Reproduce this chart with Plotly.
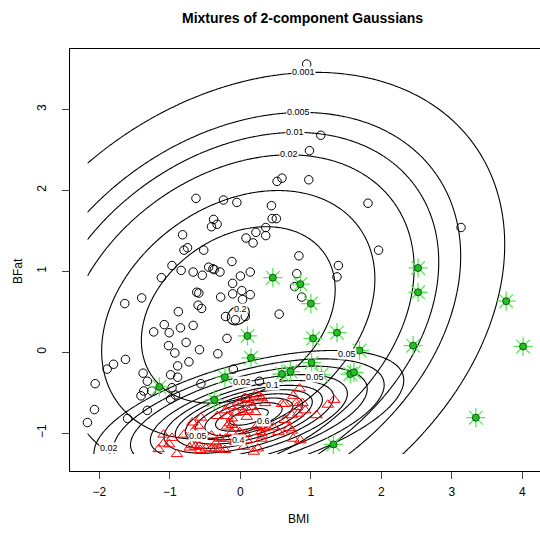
import numpy as np
import plotly.graph_objects as go

# ---- data: group 1 (black circles) ----
circ_x = [0.52, 0.59, 0.94, 1.14, 0.98, 0.97,
          -0.63, -0.24, -0.05, 0.44, 0.45, 0.51, -0.38, -0.33, -0.41, 0.36, 0.22, 0.36, 0.08, 0.18,
          -0.82, -0.75, -0.80, -0.52, 0.83, -0.12, -0.97, -0.84, -0.45, -0.39, -0.37, -0.29, -0.67,
          -0.54, 0.14, 0.00, 0.80, -1.12, -0.11, 0.77, -0.62, -0.59, 0.02, -0.11, 0.14, 0.03, -0.28,
          -1.40, -1.64, -0.60, -0.55, -0.88, 0.55, -0.21, -0.07, 0.07, -1.08, -0.85, -0.67, -1.01,
          -1.23, -0.19, -0.77, -1.02, -0.58,
          1.81, 3.13, 1.96, 1.39, 1.37, 0.87,
          -0.93, -0.32, -1.63, -0.73, -1.89, -1.80, -0.89, -0.10, -1.38, -0.99, -0.89, -1.32, -2.06,
          -0.56, 0.27, -1.26, -1.37, -1.41, -0.97, -0.92, -0.99, 0.07, -2.07, -1.32, -1.60, -2.17]
circ_y = [2.11, 2.15, 3.56, 2.68, 2.49, 2.13,
          1.90, 1.88, 1.85, 1.81, 1.65, 1.65, 1.64, 1.58, 1.55, 1.54, 1.48, 1.44, 1.41, 1.35,
          1.45, 1.29, 1.26, 1.26, 1.19, 1.12, 1.07, 1.01, 1.05, 1.03, 1.02, 0.99, 0.99,
          0.95, 0.99, 0.94, 0.97, 0.92, 0.85, 0.81, 0.74, 0.73, 0.76, 0.72, 0.71, 0.65, 0.68,
          0.67, 0.60, 0.58, 0.54, 0.50, 0.47, 0.44, 0.40, 0.44, 0.34, 0.30, 0.33, 0.24,
          0.25, 0.17, 0.12, 0.08, 0.03,
          1.84, 1.54, 1.26, 1.07, 0.93, 0.68,
          -0.01, -0.02, -0.09, -0.12, -0.21, -0.15, -0.17, -0.21, -0.26, -0.28, -0.31, -0.36, -0.39,
          -0.39, -0.36, -0.48, -0.48, -0.54, -0.44, -0.53, -0.58, -0.57, -0.71, -0.72, -0.82, -0.87]

# ---- data: group 2 (red triangles) ----
tri_x = [-1.16, -1.09, -1.09, -1.01, -0.97, -0.90, -0.80, -0.72, -0.69, -0.68, -0.66, -0.60, -0.56,
         -0.64, -0.58, -0.57, -0.49, -0.41, -0.36, -0.30, -0.22, -0.41, -0.35, -0.29, -0.21, -0.33,
         -0.21, -0.19, -0.19, -0.15, -0.12, -0.12, -0.12, -0.08, -0.14, -0.03, -0.06, -0.03, 0.04,
         0.07, 0.14, 0.11, 0.17, 0.21, 0.09, 0.12, 0.22, 0.27, 0.30, 0.35, -0.01, 0.07, -0.07, 0.09,
         0.05, 0.19, 0.25, 0.30, 0.31, 0.29, 0.23, 0.33, 0.36, 0.28, 0.38, 0.47, 0.54, 0.63, 0.69,
         0.73, 0.75, 0.85, 0.73, 0.82, 0.80, 0.92, 1.08, 0.59, 0.63, 0.79, 0.88, 0.75, 0.84, 1.24, 1.33]
tri_y = [-1.20, -1.02, -1.13, -1.14, -1.06, -1.26, -1.02, -1.18, -1.15, -0.87, -0.97, -0.91, -0.81,
         -1.17, -1.16, -1.21, -1.19, -1.19, -1.20, -1.19, -1.21, -1.03, -1.13, -1.07, -1.07, -0.79,
         -0.72, -0.79, -0.92, -0.88, -0.99, -0.90, -0.82, -0.95, -0.67, -0.68, -0.75, -0.63, -0.74,
         -0.57, -0.63, -0.72, -0.68, -0.74, -0.80, -0.59, -0.52, -0.55, -0.57, -0.63, -0.99, -1.01, -1.11, -1.09,
         -1.17, -1.23, -1.19, -1.07, -1.03, -0.99, -0.92, -0.94, -0.92, -0.91, -0.88, -0.93, -0.99, -0.84, -0.94,
         -0.97, -1.07, -1.09, -0.78, -0.76, -0.68, -0.72, -0.78, -0.64, -0.64, -0.63, -0.63, -0.54, -0.45, -0.65, -0.59]

# ---- data: unassigned / outlying points (green) ----
grn_x = [0.46, 0.10, 0.85, 1.00, 2.52, 2.52, 3.77, 1.37, 1.03, 2.45, 4.01, 1.69, -1.15, -0.22,
         0.15, -0.37, 0.59, 0.71, 1.01, 1.15, 1.56, 1.61, 3.34, 1.32]
grn_y = [0.92, 0.20, 0.84, 0.60, 1.04, 0.74, 0.63, 0.24, 0.17, 0.08, 0.07, 0.02, -0.43, -0.31,
         -0.07, -0.59, -0.27, -0.24, -0.13, -0.28, -0.27, -0.25, -0.81, -1.14]

# ---- fitted component parameters (mean x, mean y, sd x, sd y, rho, weight) ----
comp1 = dict(mx=-0.03, my=0.46, sx=1.16, sy=0.92, r=0.29, w=1.295)
comp2 = dict(mx=0.12, my=-0.80, sx=0.79, sy=0.295, r=0.55, w=1.17)
levels1 = [0.001, 0.005, 0.01, 0.02, 0.05, 0.1, 0.2]
levels2 = [0.02, 0.05, 0.1, 0.2, 0.3, 0.4, 0.5, 0.6, 0.7, 0.8, 0.9]

# contour labels (text, x, y)
lab_text = ["0.001", "0.005", "0.01", "0.02", "0.2", "0.02", "0.05", "0.1", "0.05",
            "0.02", "0.05", "0.4", "0.6"]
lab_x = [0.90, 0.82, 0.77, 0.69, 0.00, -1.86, -0.60, 0.46, 1.51, 0.02, 1.06, -0.02, 0.33]
lab_y = [3.46, 2.97, 2.72, 2.45, 0.53, -1.19, -1.04, -0.41, -0.02, -0.37, -0.31, -1.09, -0.85]


def bvn(X, Y, mx, my, sx, sy, r, w):
    zx = (X - mx) / sx
    zy = (Y - my) / sy
    q = (zx ** 2 - 2 * r * zx * zy + zy ** 2) / (1 - r ** 2)
    return w * np.exp(-q / 2) / (2 * np.pi * sx * sy * np.sqrt(1 - r ** 2))


allx = circ_x + tri_x + grn_x
ally = circ_y + tri_y + grn_y
gx = np.linspace(min(allx), max(allx), 260)
gy = np.linspace(min(ally), max(ally), 260)
GX, GY = np.meshgrid(gx, gy)
Z1 = bvn(GX, GY, **comp1)
Z2 = bvn(GX, GY, **comp2)

fig = go.Figure()
for Z, levels in ((Z1, levels1), (Z2, levels2)):
    for lv in levels:
        fig.add_trace(go.Contour(
            x=gx, y=gy, z=Z,
            contours=dict(start=lv, end=lv, size=1, coloring="lines", showlabels=False),
            colorscale=[[0, "black"], [1, "black"]],
            line=dict(width=1.1), showscale=False, hoverinfo="skip"))

fig.add_trace(go.Scatter(x=circ_x, y=circ_y, mode="markers",
                         marker=dict(symbol="circle-open", size=8.5, color="black", line=dict(width=1)),
                         hoverinfo="skip"))
fig.add_trace(go.Scatter(x=tri_x, y=tri_y, mode="markers",
                         marker=dict(symbol="triangle-up-open", size=10, color="red", line=dict(width=1)),
                         hoverinfo="skip"))
fig.add_trace(go.Scatter(x=grn_x, y=grn_y, mode="markers",
                         marker=dict(symbol="asterisk-open", size=16, color="#55ee55", line=dict(width=1.3)),
                         hoverinfo="skip"))
fig.add_trace(go.Scatter(x=grn_x, y=grn_y, mode="markers",
                         marker=dict(symbol="circle", size=7, color="#22c022",
                                     line=dict(width=1, color="#115511")),
                         hoverinfo="skip"))

for t, x, y in zip(lab_text, lab_x, lab_y):
    fig.add_annotation(x=x, y=y, text=t, showarrow=False,
                       font=dict(family="Liberation Sans, Arial", size=9, color="black"),
                       bgcolor="white", borderpad=0)

font = dict(family="Liberation Sans, Arial, sans-serif", size=12, color="black")
fig.update_layout(
    width=540, height=534, showlegend=False,
    paper_bgcolor="white", plot_bgcolor="white",
    margin=dict(l=70, r=0, t=49, b=63),
    font=font,
    xaxis=dict(range=[-2.417, 4.25], tickvals=[-2, -1, 0, 1, 2, 3, 4], showgrid=False, zeroline=False,
               showline=True, linecolor="black", linewidth=1, mirror=True,
               ticks="outside", ticklen=7, tickcolor="#444", tickfont=font, ticklabelstandoff=3),
    yaxis=dict(range=[-1.469, 3.746], tickvals=[-1, 0, 1, 2, 3], showgrid=False, zeroline=False,
               showline=True, linecolor="black", linewidth=1, mirror=False,
               ticks="outside", ticklen=7, tickcolor="#444", tickangle=-90, tickfont=font,
               ticklabelstandoff=11),
)
fig.add_annotation(text="<b>Mixtures of 2-component Gaussians</b>", xref="paper", yref="paper",
                   x=(302 - 70) / 470, y=(471 - 18) / 422, xanchor="center", yanchor="middle",
                   showarrow=False, font=dict(family="Liberation Sans, Arial", size=14, color="black"))
fig.add_annotation(text="BMI", xref="paper", yref="paper", x=(298 - 70) / 470,
                   y=(471 - 519) / 422, xanchor="center", yanchor="middle", showarrow=False, font=font)
fig.add_annotation(text="BFat", xref="paper", yref="paper", x=(18 - 70) / 470,
                   y=(471 - 271) / 422, xanchor="center", yanchor="middle",
                   showarrow=False, textangle=-90, font=font)

fig.write_html("out.html")
